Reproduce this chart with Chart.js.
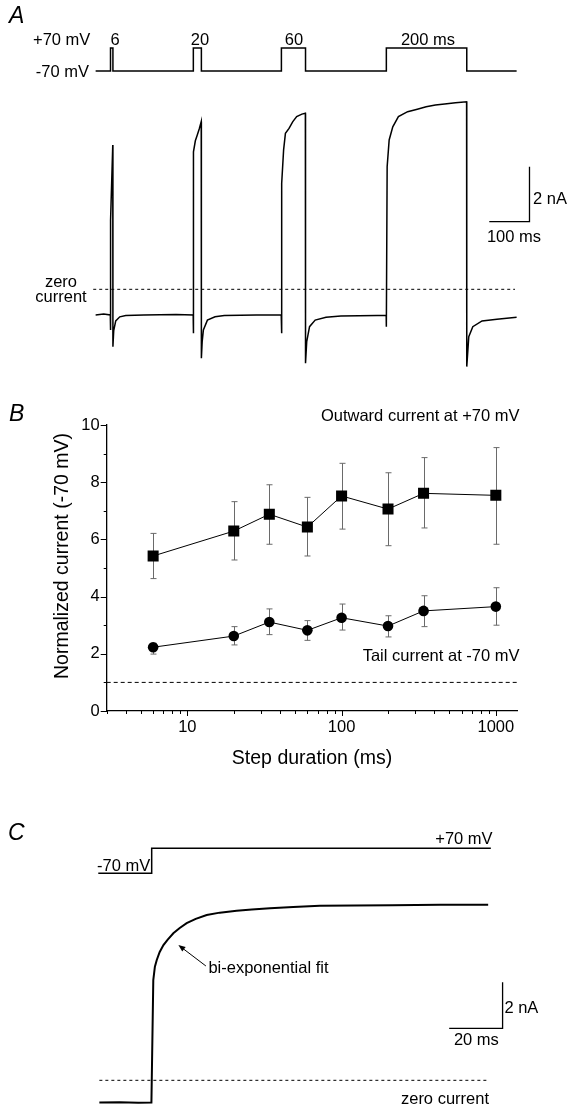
<!DOCTYPE html>
<html>
<head>
<meta charset="utf-8">
<script src="https://cdn.jsdelivr.net/npm/chart.js@4.4.1/dist/chart.umd.min.js"></script>
<style>
  html, body { margin: 0; padding: 0; background: #fff; }
  #page { position: relative; width: 581px; height: 1116px; overflow: hidden;
          font-family: "Liberation Sans", Arial, sans-serif; color: #000; }
  canvas { position: absolute; left: 0; }
  .lbl { position: absolute; white-space: nowrap; line-height: 1; font-size: 16.5px; }
  .panel { font-style: italic; font-size: 23px; }
</style>
</head>
<body>
<div id="page">
  <canvas id="chartA" width="581" height="385" style="top:0"></canvas>
  <canvas id="chartB" width="581" height="395" style="top:385px"></canvas>
  <canvas id="chartC" width="581" height="336" style="top:780px"></canvas>
</div>
<script>
// ---- panel A: pulse protocol and current trace (ms, nA) ----
const holdingMv = -70;
const stepMv = 70;
const pulseStartsA = [37, 243, 462, 723];
const pulseLengthsA = [6, 20, 60, 200];
const sweepEndA = 1047;
const traceTimeA = [0, 20, 36.5, 37, 37.3, 42.6, 43, 45, 50, 60, 75, 120, 200, 242.6,
  243, 243.6, 248, 252.6, 258, 262.6, 263, 265, 268, 278, 297, 320, 400, 461.6,
  462, 463.4, 467.5, 472, 481, 490, 500, 513, 521.6, 522, 525, 532, 546, 573, 610, 700, 722.6,
  723, 725, 730, 739, 753, 776, 800, 822, 845, 868, 895, 922.6, 923, 928, 938, 961, 998, 1047];
const traceCurrA = [-0.93, -0.90, -0.93, -1.48, 2.5, 5.25, -2.09, -1.5, -1.15, -1.0, -0.95, -0.93, -0.92, -0.93,
  -1.6, 5.0, 5.4, 5.6, 5.85, 6.1, -2.51, -1.9, -1.48, -1.12, -1.0, -0.95, -0.93, -0.93,
  -1.6, 3.85, 5.07, 5.67, 5.85, 6.09, 6.28, 6.37, 6.40, -2.69, -1.9, -1.36, -1.12, -1.02, -0.97, -0.95, -0.95,
  -1.36, 4.46, 5.43, 5.91, 6.28, 6.46, 6.55, 6.64, 6.70, 6.74, 6.78, 6.82, -2.81, -1.72, -1.36, -1.15, -1.09, -1.02];
const zeroSpanA = [-6, 1043];
const scaleBarA = [1079, 2.46];   // corner of the 100 ms / 2 nA bar
const scaleMsA = 100;
const scaleNaA = 2;

// ---- panel B: normalized current vs step duration ----
const stepDurations = [6, 20, 34, 60, 100, 200, 340, 1000];
const outwardMean = [5.42, 6.29, 6.88, 6.43, 7.52, 7.06, 7.61, 7.54];
const outwardHigh = [6.21, 7.32, 7.91, 7.47, 8.66, 8.33, 8.86, 9.21];
const outwardLow = [4.63, 5.28, 5.83, 5.42, 6.36, 5.78, 6.40, 5.83];
const tailMean = [2.23, 2.62, 3.11, 2.82, 3.26, 2.97, 3.50, 3.65];
const tailHigh = [2.37, 2.95, 3.57, 3.16, 3.74, 3.33, 4.03, 4.31];
const tailLow = [1.99, 2.31, 2.67, 2.47, 2.83, 2.59, 2.95, 3.00];
const controlLevel = 1;
const xLabelsB = [10, 100, 1000];
const yTicksB = [0, 2, 4, 6, 8, 10];

// ---- panel C: single step to +70 mV (ms, nA) ----
const stepSpanC = [-20, 0, 127];
const traceTimeC = [-19.6, -12, -5, -0.1, 0, 0.6, 1.2, 1.9, 3, 4.4, 6, 8.1, 10.5, 13.1, 16.5, 20.6,
  25.5, 31.8, 37.5, 44.3, 53, 63, 76, 90, 108, 126];
const traceCurrC = [-0.97, -0.95, -0.98, -0.97, -0.97, 4.36, 4.94, 5.23, 5.58, 5.88, 6.12, 6.39, 6.62,
  6.83, 7.02, 7.19, 7.29, 7.37, 7.43, 7.48, 7.54, 7.59, 7.60, 7.61, 7.63, 7.63];
const zeroSpanC = [-19.6, 125.6];
const scaleBarC = [131.4, 2.26];  // corner of the 20 ms / 2 nA bar
const scaleMsC = 20;
const scaleNaC = 2;
const arrowTailC = [20.3, 4.97];
const arrowTipC = [10.0, 5.88];

const page = document.getElementById("page");

function label(text, x, y, align, extra) {
    const el = document.createElement("div");
    el.className = "lbl" + (extra ? " " + extra : "");
    el.textContent = text;
    el.style.left = x + "px";
    el.style.top = y + "px";
    const tx = align === "center" ? "-50%" : align === "right" ? "-100%" : "0";
    el.style.transform = `translate(${tx}, -50%)`;
    page.appendChild(el);
}

function pts(xs, ys) {
    return xs.map((x, k) => ({ x: x, y: ys[k] }));
}

function line(data, axis, width, dash) {
    return {
        data: data,
        yAxisID: axis,
        showLine: true,
        borderColor: "#000",
        borderWidth: width,
        borderDash: dash || [],
        pointRadius: 0,
        tension: 0
    };
}

function scaleBar(corner, dx, dy) {
    return [
        { x: corner[0] - dx, y: corner[1] },
        { x: corner[0], y: corner[1] },
        { x: corner[0], y: corner[1] + dy }
    ];
}

function traceOptions(padding, xr, ir, vr) {
    return {
        responsive: false,
        animation: false,
        layout: { padding: padding },
        plugins: { legend: { display: false }, tooltip: { enabled: false } },
        scales: {
            x: { type: "linear", display: false, min: xr[0], max: xr[1] },
            i: { type: "linear", display: false, min: ir[0], max: ir[1] },
            v: { type: "linear", display: false, min: vr[0], max: vr[1] }
        }
    };
}

// ---------- panel A ----------
const protocolA = [{ x: 0, y: holdingMv }];
pulseStartsA.forEach((t0, k) => {
    const t1 = t0 + pulseLengthsA[k];
    protocolA.push({ x: t0, y: holdingMv }, { x: t0, y: stepMv }, { x: t1, y: stepMv }, { x: t1, y: holdingMv });
});
protocolA.push({ x: sweepEndA, y: holdingMv });

new Chart(document.getElementById("chartA"), {
    type: "scatter",
    data: {
        datasets: [
            line(pts(zeroSpanA, [0, 0]), "i", 1, [3, 3]),
            line(protocolA, "v", 1.5),
            line(pts(traceTimeA, traceCurrA), "i", 1.5),
            line(scaleBar(scaleBarA, scaleMsA, scaleNaA), "i", 1.3)
        ]
    },
    options: traceOptions({ left: 90, right: 31, top: 20, bottom: 10 },
        [-14, 1130], [-3.116, 9.793], [-1920.4, 240.4])
});

// ---------- panel B ----------
const errorBars = {
    id: "errorBars",
    beforeDatasetsDraw(chart) {
        const { ctx, scales: { x, y } } = chart;
        ctx.save();
        ctx.strokeStyle = "#6a6a6a";
        ctx.lineWidth = 1;
        [[outwardLow, outwardHigh], [tailLow, tailHigh]].forEach(([lo, hi]) => {
            stepDurations.forEach((d, k) => {
                const px = Math.round(x.getPixelForValue(d)) + 0.5;
                const top = y.getPixelForValue(hi[k]);
                const bot = y.getPixelForValue(lo[k]);
                ctx.beginPath();
                ctx.moveTo(px, top); ctx.lineTo(px, bot);
                ctx.moveTo(px - 3, top); ctx.lineTo(px + 3, top);
                ctx.moveTo(px - 3, bot); ctx.lineTo(px + 3, bot);
                ctx.stroke();
            });
        });
        ctx.restore();
    }
};

const axisMarksB = {
    id: "axisMarksB",
    afterDraw(chart) {
        const { ctx, scales: { x, y }, chartArea } = chart;
        ctx.save();
        ctx.strokeStyle = "#000";
        ctx.lineWidth = 1;
        ctx.beginPath();
        for (let v = 0; v <= 10; v++) {
            const py = Math.round(y.getPixelForValue(v)) + 0.5;
            ctx.moveTo(chartArea.left, py);
            ctx.lineTo(chartArea.left - (v % 2 === 0 ? 6 : 3), py);
        }
        for (let dec = 1; dec <= 1000; dec *= 10) {
            for (let m = 1; m <= 9; m++) {
                const v = m * dec;
                if (v < x.min || v > x.max) continue;
                const px = Math.round(x.getPixelForValue(v)) + 0.5;
                ctx.moveTo(px, chartArea.bottom);
                ctx.lineTo(px, chartArea.bottom + (m === 1 ? 5 : 3));
            }
        }
        ctx.stroke();
        // y axis title
        ctx.translate(63, 171);
        ctx.rotate(-Math.PI / 2);
        ctx.fillStyle = "#000";
        ctx.font = '19.5px "Liberation Sans", Arial, sans-serif';
        ctx.textAlign = "center";
        ctx.textBaseline = "middle";
        ctx.fillText("Normalized current (-70 mV)", 0, 0);
        ctx.restore();
    }
};

const tickFont = { family: '"Liberation Sans", Arial, sans-serif', size: 16.5 };

new Chart(document.getElementById("chartB"), {
    type: "scatter",
    data: {
        datasets: [
            line(pts([3, 1380], [controlLevel, controlLevel]), "y", 1, [4, 3]),
            {
                data: pts(stepDurations, outwardMean),
                showLine: true,
                borderColor: "#000",
                borderWidth: 1,
                pointStyle: "rect",
                pointRadius: 7.8,
                pointBackgroundColor: "#000",
                pointBorderWidth: 0
            },
            {
                data: pts(stepDurations, tailMean),
                showLine: true,
                borderColor: "#000",
                borderWidth: 1,
                pointStyle: "circle",
                pointRadius: 5.3,
                pointBackgroundColor: "#000",
                pointBorderWidth: 0
            }
        ]
    },
    options: {
        responsive: false,
        animation: false,
        layout: { padding: { left: 0, right: 63.6, top: 40, bottom: 0 } },
        plugins: { legend: { display: false }, tooltip: { enabled: false } },
        scales: {
            x: {
                type: "logarithmic",
                min: 3,
                max: 1380,
                afterFit: s => { s.height = 69; },
                afterBuildTicks: s => { s.ticks = xLabelsB.map(v => ({ value: v })); },
                grid: { display: false, drawTicks: false },
                border: { display: true, color: "#000", width: 1.3 },
                ticks: {
                    color: "#000", font: tickFont, padding: 7, maxRotation: 0,
                    autoSkip: false, callback: v => String(v)
                },
                title: {
                    display: true, text: "Step duration (ms)", color: "#000",
                    font: { family: tickFont.family, size: 19.5 }, padding: { top: 0, bottom: 10 }
                }
            },
            y: {
                type: "linear",
                min: 0,
                max: 10,
                afterFit: s => { s.width = 106.7; },
                afterBuildTicks: s => { s.ticks = yTicksB.map(v => ({ value: v })); },
                grid: { display: false, drawTicks: false },
                border: { display: true, color: "#000", width: 1.3 },
                ticks: { color: "#000", font: tickFont, padding: 7 }
            }
        }
    },
    plugins: [errorBars, axisMarksB]
});

// ---------- panel C ----------
const arrowC = {
    id: "arrowC",
    afterDatasetsDraw(chart) {
        const { ctx, scales: { x, i } } = chart;
        const x0 = x.getPixelForValue(arrowTailC[0]), y0 = i.getPixelForValue(arrowTailC[1]);
        const x1 = x.getPixelForValue(arrowTipC[0]), y1 = i.getPixelForValue(arrowTipC[1]);
        const ang = Math.atan2(y1 - y0, x1 - x0);
        ctx.save();
        ctx.strokeStyle = "#000";
        ctx.fillStyle = "#000";
        ctx.lineWidth = 1;
        ctx.beginPath();
        ctx.moveTo(x0, y0);
        ctx.lineTo(x1 - 5 * Math.cos(ang), y1 - 5 * Math.sin(ang));
        ctx.stroke();
        ctx.beginPath();
        ctx.moveTo(x1, y1);
        ctx.lineTo(x1 - 7 * Math.cos(ang) + 2.8 * Math.sin(ang), y1 - 7 * Math.sin(ang) - 2.8 * Math.cos(ang));
        ctx.lineTo(x1 - 7 * Math.cos(ang) - 2.8 * Math.sin(ang), y1 - 7 * Math.sin(ang) + 2.8 * Math.cos(ang));
        ctx.closePath();
        ctx.fill();
        ctx.restore();
    }
};

const protocolC = [
    { x: stepSpanC[0], y: holdingMv }, { x: stepSpanC[1], y: holdingMv },
    { x: stepSpanC[1], y: stepMv }, { x: stepSpanC[2], y: stepMv }
];

new Chart(document.getElementById("chartC"), {
    type: "scatter",
    data: {
        datasets: [
            line(pts(zeroSpanC, [0, 0]), "i", 1, [3, 3]),
            line(protocolC, "v", 1.5),
            line(pts(traceTimeC, traceCurrC), "i", 2),
            line(scaleBar(scaleBarC, scaleMsC, scaleNaC), "i", 1.3)
        ]
    },
    options: traceOptions({ left: 90, right: 21, top: 50, bottom: 6 },
        [-23.1, 152.9], [-1.291, 10.883], [-1395.5, 172.5]),
    plugins: [arrowC]
});

// ---------- text ----------
label("A", 9, 15, "left", "panel");
label("+70 mV", 33, 39, "left");
label("-70 mV", 89, 71, "right");
label("6", 115, 39, "center");
label("20", 200, 39, "center");
label("60", 294, 39, "center");
label("200 ms", 428, 39, "center");
label("zero", 61, 281, "center");
label("current", 61, 296, "center");
label("2 nA", 533, 198, "left");
label("100 ms", 514, 236, "center");

label("B", 9, 413, "left", "panel");
label("Outward current at +70 mV", 519.5, 415, "right");
label("Tail current at -70 mV", 519.5, 655, "right");

label("C", 8, 832, "left", "panel");
label("+70 mV", 492.6, 838, "right");
label("-70 mV", 97, 865, "left");
label("bi-exponential fit", 208.4, 967, "left");
label("2 nA", 504.4, 1006.7, "left");
label("20 ms", 476.4, 1039.3, "center");
label("zero current", 489, 1098, "right");
</script>
</body>
</html>
